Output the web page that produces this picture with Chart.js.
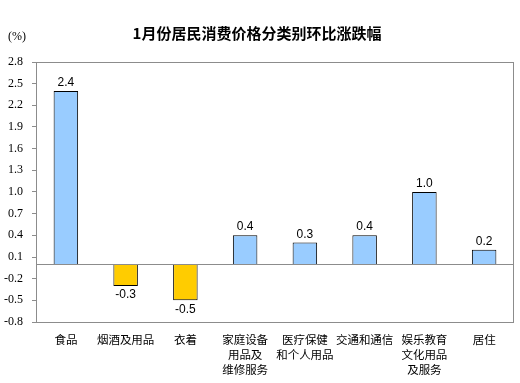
<!DOCTYPE html>
<html>
<head>
<meta charset="utf-8">
<script src="https://cdn.jsdelivr.net/npm/chart.js@4/dist/chart.umd.min.js"></script>
<style>
html,body{margin:0;padding:0;background:#fff;}
#wrap{width:520px;height:383px;position:relative;}
</style>
</head>
<body>
<div id="wrap"><canvas id="c" width="520" height="383"></canvas></div>
<script>
const titleText = '1月份居民消费价格分类别环比涨跌幅';
const unitText = '(%)';
const categories = [
  ['食品'],
  ['烟酒及用品'],
  ['衣着'],
  ['家庭设备', '用品及', '维修服务'],
  ['医疗保健', '和个人用品'],
  ['交通和通信'],
  ['娱乐教育', '文化用品', '及服务'],
  ['居住']
];
const values = [2.4, -0.3, -0.5, 0.4, 0.3, 0.4, 1.0, 0.2];
const yMin = -0.8, yMax = 2.8, yStep = 0.3;
const posColor = '#99CCFF';
const negColor = '#FFCC00';

const framePlugin = {
  id: 'frame',
  beforeDatasetsDraw(chart) {
    const {ctx, chartArea: a} = chart;
    ctx.save();
    ctx.strokeStyle = '#8c8c8c';
    ctx.lineWidth = 1;
    ctx.strokeRect(Math.round(a.left) + 0.5, Math.round(a.top) + 0.5, Math.round(a.right - a.left) - 1, Math.round(a.bottom - a.top));
    ctx.restore();
  },
  afterDatasetsDraw(chart) {
    const {ctx, chartArea: a, scales: {y}} = chart;
    ctx.save();
    ctx.strokeStyle = '#8c8c8c';
    ctx.lineWidth = 1;
    const zy = Math.round(y.getPixelForValue(0)) + 0.5;
    ctx.beginPath();
    ctx.moveTo(a.left, zy);
    ctx.lineTo(a.right, zy);
    ctx.stroke();

    const meta = chart.getDatasetMeta(0);
    ctx.fillStyle = '#000';
    ctx.font = '12px "Liberation Sans", Arial, sans-serif';
    ctx.textAlign = 'center';
    meta.data.forEach((bar, i) => {
      const v = values[i];
      const txt = v.toFixed(1);
      if (v >= 0) {
        ctx.textBaseline = 'alphabetic';
        ctx.fillText(txt, bar.x, bar.y - 5);
      } else {
        ctx.textBaseline = 'top';
        ctx.fillText(txt, bar.x, bar.y + 3);
      }
    });
    ctx.font = '12px "Liberation Serif", "Times New Roman", serif';
    ctx.textAlign = 'left';
    ctx.textBaseline = 'middle';
    ctx.fillText(unitText, 8, 37);
    ctx.restore();
  }
};

new Chart(document.getElementById('c'), {
  type: 'bar',
  data: {
    labels: categories,
    datasets: [{
      data: values,
      backgroundColor: values.map(v => v >= 0 ? posColor : negColor),
      borderColor: '#000',
      borderWidth: 1,
      borderSkipped: 'start',
      barPercentage: 0.41,
      categoryPercentage: 1
    }]
  },
  options: {
    responsive: false,
    animation: false,
    devicePixelRatio: 1,
    layout: {padding: {left: 0, right: 6, top: 0, bottom: 0}},
    plugins: {
      legend: {display: false},
      tooltip: {enabled: false},
      title: {
        display: true,
        text: titleText,
        color: '#000',
        font: {family: '"Noto Sans CJK SC", sans-serif', size: 15, weight: 'bold', lineHeight: 1.2},
        padding: {top: 24, bottom: 20}
      }
    },
    scales: {
      x: {
        grid: {display: false, drawTicks: false},
        border: {display: false},
        ticks: {
          color: '#000',
          padding: 10,
          maxRotation: 0,
          autoSkip: false,
          font: {family: '"Noto Sans CJK SC", sans-serif', size: 11.5, lineHeight: 1.3}
        },
        afterFit(s) { s.height = 61; }
      },
      y: {
        min: yMin,
        max: yMax,
        grid: {drawOnChartArea: false, drawTicks: true, tickLength: 4, color: '#8c8c8c'},
        border: {display: true, color: '#8c8c8c'},
        ticks: {
          stepSize: yStep,
          color: '#000',
          padding: 9,
          font: {family: '"Liberation Serif", "Times New Roman", serif', size: 12},
          callback: v => (Math.round(v * 10) / 10).toFixed(1)
        },
        afterFit(s) { s.width = 36; }
      }
    }
  },
  plugins: [framePlugin]
});
</script>
</body>
</html>
